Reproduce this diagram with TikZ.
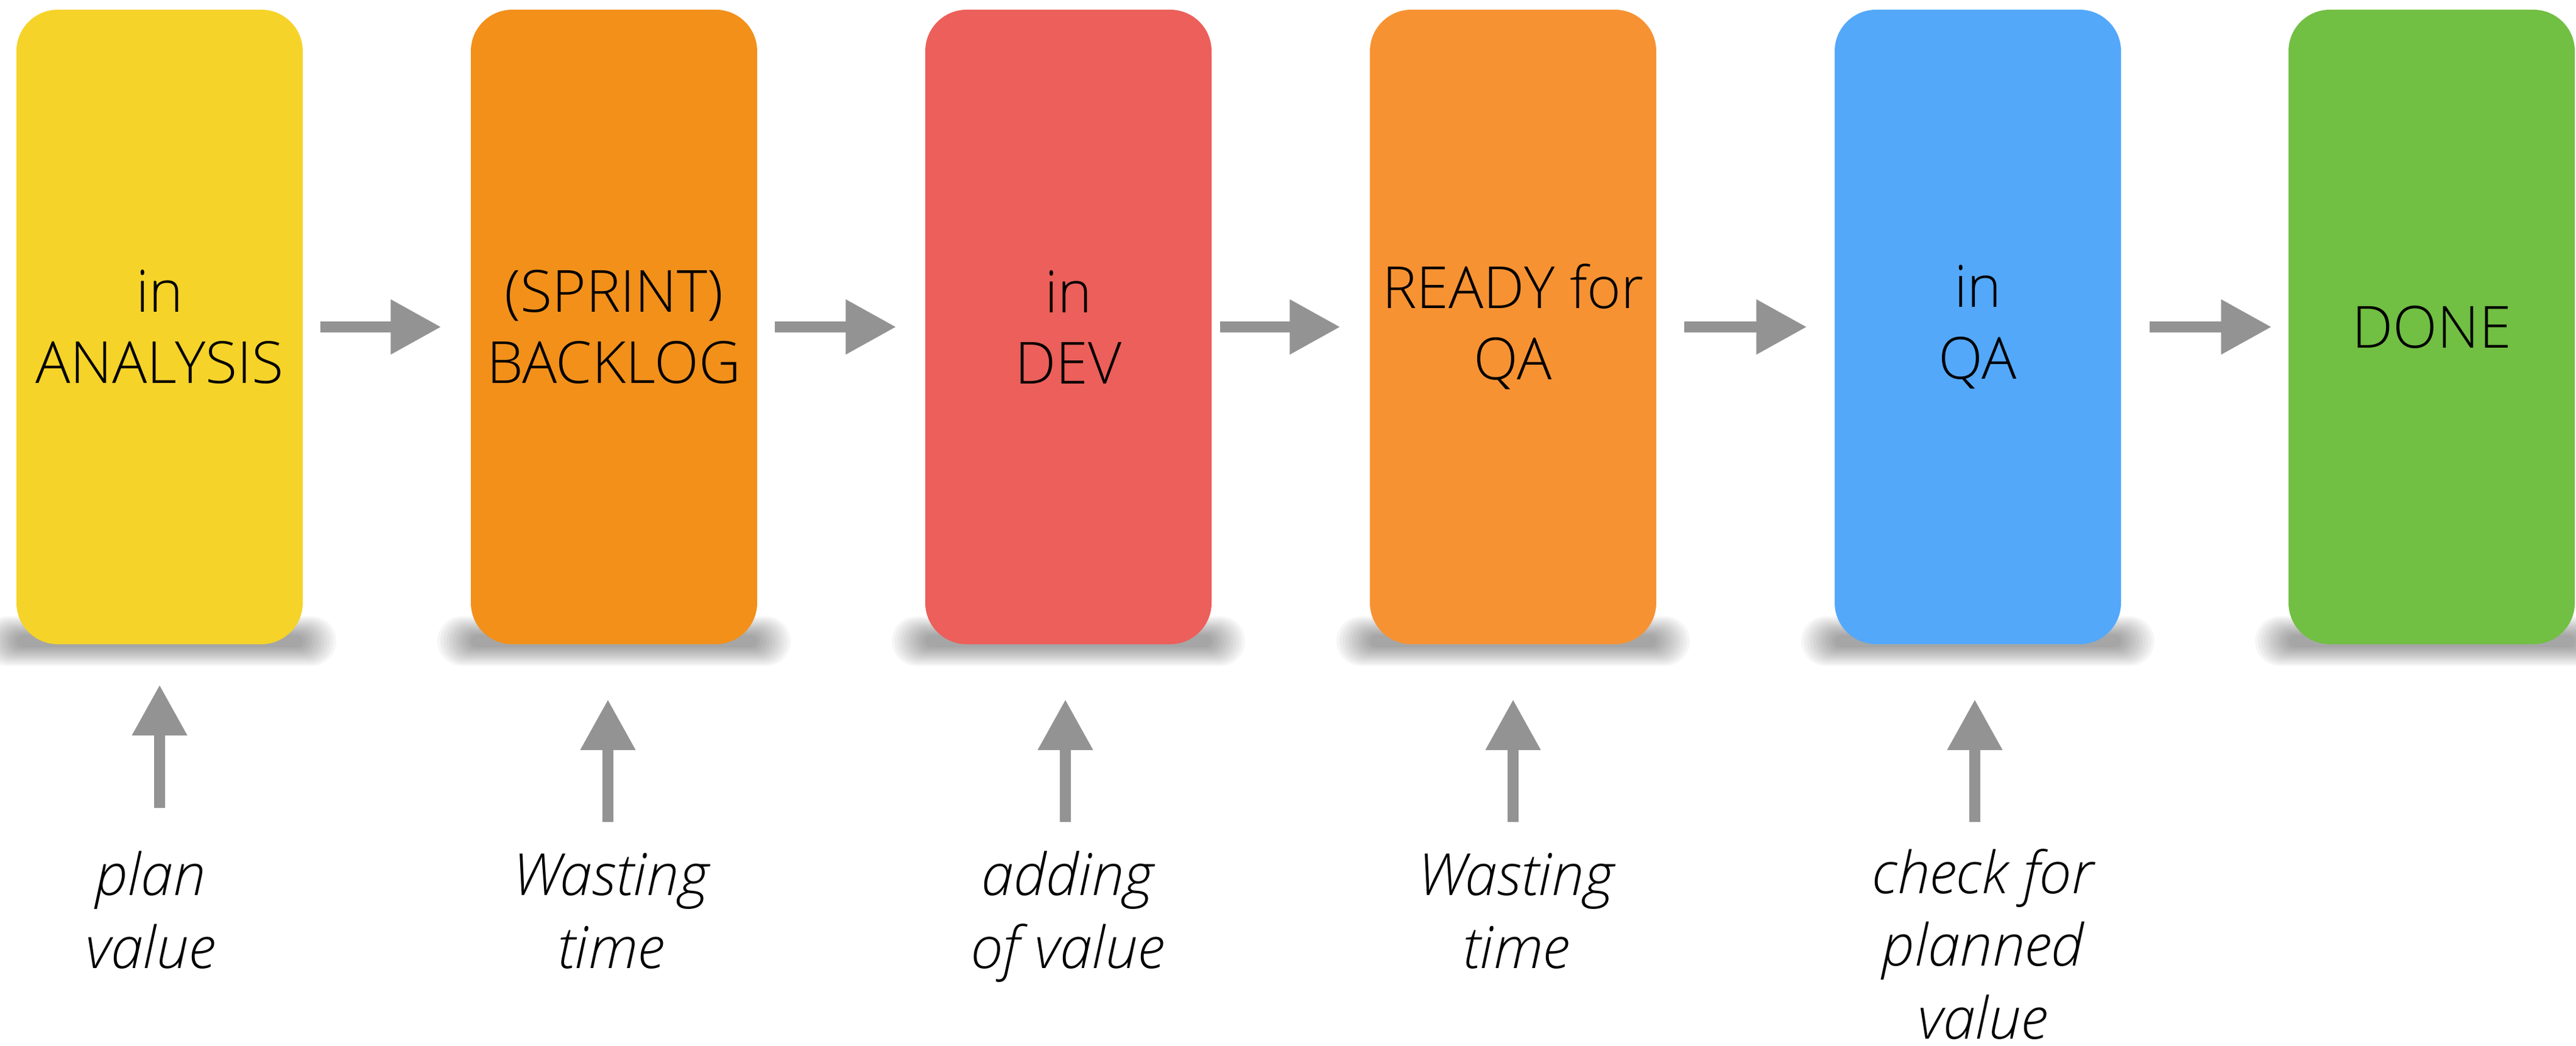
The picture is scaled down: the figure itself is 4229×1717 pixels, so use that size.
\documentclass[tikz,border=0pt]{standalone}
\usepackage{fontspec}
\setmainfont{Open Sans Light}[ItalicFont={Open Sans Light Italic}]
\usetikzlibrary{arrows.meta,calc}
\definecolor{cyellow}{HTML}{F5D329}
\definecolor{corange}{HTML}{F2901A}
\definecolor{cred}{HTML}{EC5F5A}
\definecolor{corangeb}{HTML}{F79232}
\definecolor{cblue}{HTML}{53A8FA}
\definecolor{cgreen}{HTML}{71BF43}
\definecolor{arrowgray}{HTML}{939393}
\begin{document}
\begin{tikzpicture}[x=0.24pt,y=-0.24pt,
  box/.style={rounded corners=16.3pt, minimum width=112.8pt, minimum height=250.1pt, inner sep=0pt, align=center, font=\fontsize{22.9pt}{28.1pt}\selectfont, text=black},
  lab/.style={anchor=base, inner sep=0pt, align=center, font=\fontsize{22.9pt}{28.6pt}\selectfont\itshape, text=black},
  flow/.style={draw=arrowgray, line width=4.2pt, -{Triangle[length=19.9pt,width=20.6pt]}},
]
\useasboundingbox (0,0) rectangle (4229,1717);
\foreach \c in {262,1008,1754,2484,3247,3992}{
  \foreach \i in {1,...,12}{
    \pgfmathsetmacro\rr{(6.9+2.8*\i)*0.24}
    \fill[black,opacity=0.036,rounded corners=\rr pt] ({\c-230-5*\i},{1046-2.8*\i}) rectangle ({\c+230+5*\i},{1060+2.8*\i});
  }
}
\node[box,fill=cyellow]  (b1) at (262,537)  {in\\ANALYSIS};
\node[box,fill=corange]  (b2) at (1008,537) {(SPRINT)\\BACKLOG};
\node[box,fill=cred]     (b3) at (1754,537) {in\\DEV};
\node[box,fill=corangeb] (b4) at (2484,537) {READY for\\QA};
\node[box,fill=cblue]    (b5) at (3247,537) {in\\QA};
\node[box,fill=cgreen]   (b6) at (3992,537) {DONE};

\draw[flow] ($(b1.east)+(28,0)$) -- ($(b2.west)+(-48,0)$);
\draw[flow] ($(b2.east)+(28,0)$) -- ($(b3.west)+(-47,0)$);
\draw[flow] ($(b3.east)+(13,0)$) -- ($(b4.west)+(-48,0)$);
\draw[flow] ($(b4.east)+(45,0)$) -- ($(b5.west)+(-45,0)$);
\draw[flow] ($(b5.east)+(46,0)$) -- ($(b6.west)+(-27,0)$);

\draw[flow] ($(b1.south)+(0,268)$) -- ($(b1.south)+(0,66)$);
\draw[flow] ($(b2.south)+(-10,291)$) -- ($(b2.south)+(-10,90)$);
\draw[flow] ($(b3.south)+(-5,291)$) -- ($(b3.south)+(-5,90)$);
\draw[flow] ($(b4.south)+(0,291)$) -- ($(b4.south)+(0,90)$);
\draw[flow] ($(b5.south)+(-5,291)$) -- ($(b5.south)+(-5,90)$);

\node[lab] (l1) at (247,1590)  {plan\\value};
\node[lab] (l2) at (1003,1590) {Wasting\\time};
\node[lab] (l3) at (1753,1590) {adding\\of value};
\node[lab] (l4) at (2489,1590) {Wasting\\time};
\node[lab] (l5) at (3255,1706) {check for\\planned\\value};
\end{tikzpicture}
\end{document}
